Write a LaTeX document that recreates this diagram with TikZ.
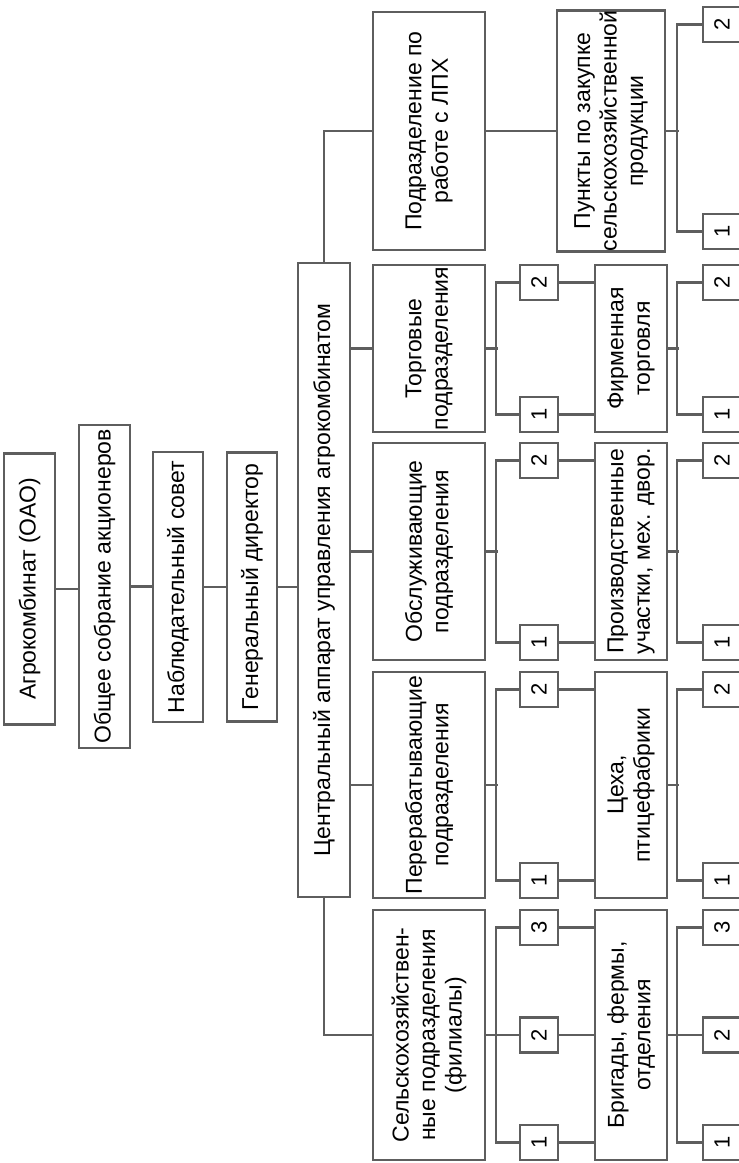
\documentclass[tikz,border=0pt]{standalone}
\usepackage{fontspec}
\setmainfont{Liberation Sans}
\usepackage{tikz}
\definecolor{linegray}{HTML}{5E5E5E}
\tikzstyle{unit} = [rectangle, draw=linegray, line width=2.6pt, fill=white, align=center, inner xsep=0pt, inner ysep=0pt, font=\fontsize{23}{26.5}\selectfont]
\tikzstyle{num} = [rectangle, draw=linegray, line width=2.6pt, fill=white, minimum width=35pt, minimum height=38pt, inner sep=0pt, font=\fontsize{22}{24}\selectfont]
\tikzstyle{link} = [draw=linegray, line width=2.2pt]

\begin{document}
\begin{tikzpicture}[x=1pt, y=1pt, rotate=90, transform shape]
\useasboundingbox (0,0) rectangle (1163,739);

% Vertice
\node (agro) [unit, minimum width=271pt, minimum height=51pt] at (574,709.5) {Агрокомбинат (ОАО)};
\node (sobr) [unit, minimum width=323pt, minimum height=51pt] at (576.5,634.5) {Общее собрание акционеров};
\node (nabl) [unit, minimum width=270pt, minimum height=50pt] at (576,561) {Наблюдательный совет};
\node (gend) [unit, minimum width=269pt, minimum height=50pt] at (576,487) {Генеральный директор};
\node (centr) [unit, minimum width=634pt, minimum height=52pt] at (583,415) {Центральный аппарат управления агрокомбинатом};

% Subdivisioni
\node (lph) [unit, minimum width=238pt, minimum height=112pt] at (1032,310) {Подразделение по\\работе с ЛПХ};
\node (torg) [unit, minimum width=167pt, minimum height=112pt] at (814.5,310) {Торговые\\подразделения};
\node (obsl) [unit, minimum width=217pt, minimum height=112pt] at (611.5,310) {Обслуживающие\\подразделения};
\node (pere) [unit, minimum width=226pt, minimum height=112pt] at (378,310) {Перерабатывающие\\подразделения};
\node (selh) [unit, minimum width=250pt, minimum height=112pt] at (128,310) {Сельскохозяйствен-\\ные подразделения\\(филиалы)};

% Numeri intermedi
\node (tor1) [num] at (748.5,200) {1};
\node (tor2) [num] at (880.5,200) {2};
\node (obs1) [num] at (520.5,200) {1};
\node (obs2) [num] at (702.5,200) {2};
\node (per1) [num] at (282.5,200) {1};
\node (per2) [num] at (473.5,200) {2};
\node (sel1) [num] at (20.5,200) {1};
\node (sel2) [num] at (128,200) {2};
\node (sel3) [num] at (235.5,200) {3};

% Unita di base
\node (punk) [unit, minimum width=238pt, minimum height=108pt] at (1032,128) {Пункты по закупке\\сельскохозяйственной\\продукции};
\node (firm) [unit, minimum width=167pt, minimum height=72pt] at (814.5,108) {Фирменная\\торговля};
\node (proi) [unit, minimum width=217pt, minimum height=72pt] at (611.5,108) {Производственные\\участки, мех. двор.};
\node (cexa) [unit, minimum width=226pt, minimum height=72pt] at (378,108) {Цеха,\\птицефабрики};
\node (brig) [unit, minimum width=250pt, minimum height=72pt] at (128,108) {Бригады, фермы,\\отделения};

% Numeri finali
\node (pun1) [num] at (931.5,17) {1};
\node (pun2) [num] at (1138.5,17) {2};
\node (fir1) [num] at (748.5,17) {1};
\node (fir2) [num] at (880.5,17) {2};
\node (pro1) [num] at (520.5,17) {1};
\node (pro2) [num] at (702.5,17) {2};
\node (ceh1) [num] at (282.5,17) {1};
\node (ceh2) [num] at (473.5,17) {2};
\node (bri1) [num] at (20.5,17) {1};
\node (bri2) [num] at (128,17) {2};
\node (bri3) [num] at (235.5,17) {3};

% Catena di comando
\draw [link] (agro.south) -- (agro.south |- sobr.north);
\draw [link] (sobr.south) -- (sobr.south |- nabl.north);
\draw [link] (nabl.south) -- (nabl.south |- gend.north);
\draw [link] (gend.south) -- (gend.south |- centr.north);

% Apparato centrale
\draw [link] (centr.east) -| (lph.north);
\draw [link] (torg.north) -- (torg.north |- centr.south);
\draw [link] (obsl.north) -- (obsl.north |- centr.south);
\draw [link] (pere.north) -- (pere.north |- centr.south);
\draw [link] (centr.west) -| (selh.north);

% Rami
\draw [link] (lph.south) -- (punk.north);
\draw [link] (punk.south) -- ++(0,-13);
\draw [link] (pun1.north) -- ++(0,25) -| (pun2.north);

\draw [link] (torg.south) -- ++(0,-12);
\draw [link] (tor1.north) -- ++(0,23) -| (tor2.north);
\draw [link] (tor1.south) -- (tor1.south |- firm.north);
\draw [link] (tor2.south) -- (tor2.south |- firm.north);
\draw [link] (firm.south) -- ++(0,-11);
\draw [link] (fir1.north) -- ++(0,25) -| (fir2.north);

\draw [link] (obsl.south) -- ++(0,-12);
\draw [link] (obs1.north) -- ++(0,23) -| (obs2.north);
\draw [link] (obs1.south) -- (obs1.south |- proi.north);
\draw [link] (obs2.south) -- (obs2.south |- proi.north);
\draw [link] (proi.south) -- ++(0,-11);
\draw [link] (pro1.north) -- ++(0,25) -| (pro2.north);

\draw [link] (pere.south) -- ++(0,-12);
\draw [link] (per1.north) -- ++(0,23) -| (per2.north);
\draw [link] (per1.south) -- (per1.south |- cexa.north);
\draw [link] (per2.south) -- (per2.south |- cexa.north);
\draw [link] (cexa.south) -- ++(0,-11);
\draw [link] (ceh1.north) -- ++(0,25) -| (ceh2.north);

\draw [link] (selh.south) -- ++(0,-12);
\draw [link] (sel1.north) -- ++(0,23) -| (sel3.north);
\draw [link] (sel2.north) -- ++(0,23);
\draw [link] (sel1.south) -- (sel1.south |- brig.north);
\draw [link] (sel2.south) -- (sel2.south |- brig.north);
\draw [link] (sel3.south) -- (sel3.south |- brig.north);
\draw [link] (brig.south) -- ++(0,-11);
\draw [link] (bri1.north) -- ++(0,25) -| (bri3.north);
\draw [link] (bri2.north) -- ++(0,25);

\end{tikzpicture}
\end{document}
